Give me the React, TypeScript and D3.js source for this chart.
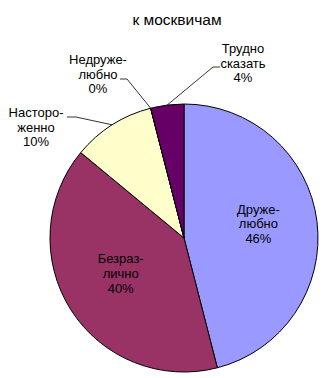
import React from "react";
import * as d3 from "d3";

const title = "к москвичам";
const categories = ["Друже-|любно", "Безраз-|лично", "Насторо-|женно", "Недруже-|любно", "Трудно|сказать"];
const values = [46, 40, 10, 0, 4];
const colors = ["#9999FF", "#993366", "#FFFFCC", "#FFFFFF", "#660066"];

const W = 327, H = 378;
const cx = 184, cy = 238, R = 134;
const font = "'Liberation Sans', Arial, sans-serif";
const FS = 13;
const LH = 14.7;

// outside label anchors (label block center x, first baseline y, leader start)
const outside: Record<number, { x: number; y: number; lx: number; ly: number; hx: number }> = {
  2: { x: 36, y: 117, lx: 67, ly: 117, hx: 76 },
  3: { x: 98, y: 64, lx: 120, ly: 79, hx: 127 },
  4: { x: 243, y: 53, lx: 220, ly: 67, hx: 213 },
};

export default function App() {
  const pie = d3.pie<number>().sort(null).startAngle(0).endAngle(2 * Math.PI);
  const arcs = pie(values);
  const arc = d3.arc<d3.PieArcDatum<number>>().innerRadius(0).outerRadius(R);
  const total = d3.sum(values);
  const pt = (a: number, r: number) => [Math.sin(a) * r, -Math.cos(a) * r];

  return (
    <svg width={W} height={H} style={{ position: "absolute", left: 0, top: 0 }}>
      <rect width={W} height={H} fill="#fff" />
      <text x={177} y={25} textAnchor="middle" fontFamily={font} fontSize={15.5} fill="#000">{title}</text>
      <g transform={`translate(${cx},${cy})`}>
        {arcs.map((a, i) => (
          <path key={i} d={arc(a) || ""} fill={colors[i]} stroke="#000" strokeWidth={1} />
        ))}
      </g>
      {arcs.map((a, i) => {
        const lines = categories[i].split("|");
        const pct = Math.round((values[i] / total) * 100) + "%";
        const all = [...lines, pct];
        if (i < 2) {
          const mid = (a.startAngle + a.endAngle) / 2;
          const [px, py] = pt(mid, 75);
          return (
            <text key={i} x={cx + px} textAnchor="middle" fontFamily={font} fontSize={FS} fill="#000">
              {all.map((s, j) => (
                <tspan key={j} x={cx + px} y={cy + py - 15 + j * LH}>{s}</tspan>
              ))}
            </text>
          );
        }
        const o = outside[i];
        const ang = values[i] === 0 ? a.startAngle : (a.startAngle + a.endAngle) / 2;
        const [ex, ey] = pt(ang, R);
        return (
          <g key={i}>
            <polyline points={`${o.lx},${o.ly} ${o.hx},${o.ly} ${cx + ex},${cy + ey}`} fill="none" stroke="#000" strokeWidth={0.8} />
            <text textAnchor="middle" fontFamily={font} fontSize={FS} fill="#000">
              {all.map((s, j) => (
                <tspan key={j} x={o.x} y={o.y + j * LH}>{s}</tspan>
              ))}
            </text>
          </g>
        );
      })}
    </svg>
  );
}
